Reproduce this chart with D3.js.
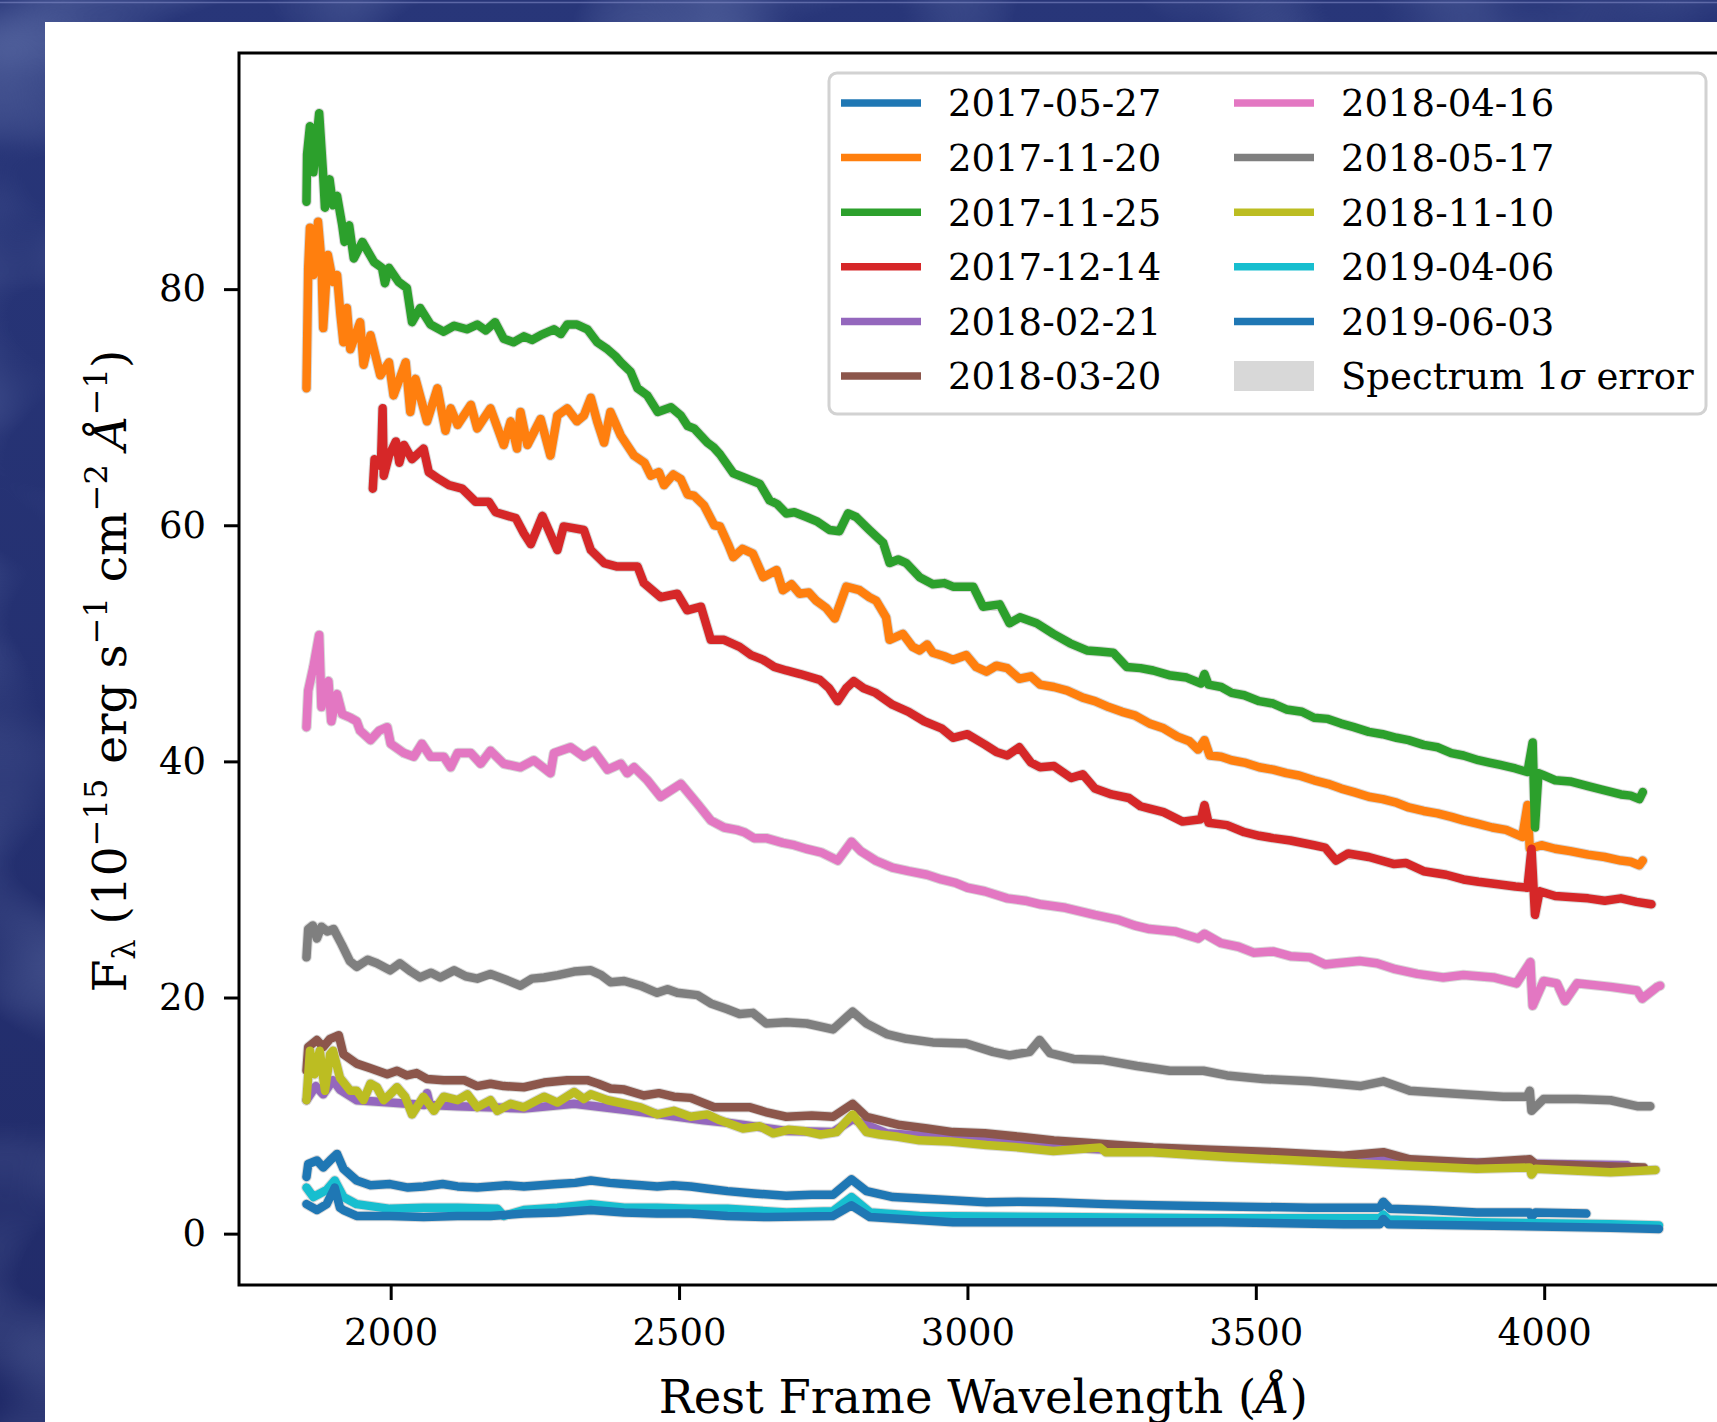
<!DOCTYPE html>
<html>
<head>
<meta charset="utf-8">
<script src="https://cdn.jsdelivr.net/npm/d3@7"></script>
<style>
  html, body { margin: 0; padding: 0; background: #232d6c; overflow: hidden; }
  svg { display: block; }
  text { font-family: "DejaVu Serif", serif; fill: #000; }
</style>
</head>
<body>
<div id="chart"></div>
<script>
// Spectra: [rest wavelength (A), flux (1e-15 erg/s/cm2/A)]
const spec20170527 = [[1854,4.8],[1857,5.9],[1872,6.2],[1883,5.6],[1895,6.2],[1907,6.75],[1918,5.5],[1941,4.5],[1965,4.1],[1999,4.2],[2030,3.9],[2057,4.0],[2090,4.2],[2116,4.0],[2150,3.9],[2173,4.0],[2200,4.1],[2231,4.0],[2260,4.1],[2289,4.2],[2320,4.3],[2347,4.5],[2380,4.3],[2405,4.2],[2435,4.1],[2462,4.0],[2490,4.1],[2520,4.0],[2550,3.8],[2584,3.6],[2630,3.4],[2686,3.2],[2730,3.3],[2767,3.3],[2799,4.6],[2825,3.6],[2871,3.1],[2950,2.9],[3033,2.65],[3090,2.7],[3149,2.65],[3240,2.5],[3322,2.4],[3450,2.3],[3594,2.2],[3715,2.2],[3721,2.7],[3733,2.1],[3800,2.0],[3883,1.8],[3975,1.8],[3978,1.4],[3985,1.8],[4073,1.7]];
const spec20171120 = [[1854,71.6],[1857,81.8],[1860,85.2],[1866,81.2],[1874,85.7],[1880,82.3],[1883,76.7],[1891,82.9],[1900,80.6],[1907,81.2],[1913,77.8],[1918,75.5],[1924,78.4],[1930,74.9],[1947,77.2],[1953,73.6],[1965,76.1],[1982,72.7],[1997,73.8],[2005,71.0],[2026,73.8],[2034,69.6],[2043,72.4],[2063,68.8],[2081,71.6],[2095,68.0],[2104,69.9],[2116,68.5],[2139,70.2],[2150,68.2],[2173,69.9],[2196,66.8],[2208,68.8],[2219,66.5],[2225,69.6],[2237,66.8],[2260,69.0],[2277,65.9],[2289,69.3],[2306,69.9],[2323,68.8],[2335,69.3],[2347,70.8],[2358,68.8],[2370,67.0],[2381,69.6],[2399,67.6],[2422,65.9],[2440,65.3],[2451,64.2],[2465,64.5],[2474,63.4],[2490,64.3],[2503,63.9],[2515,62.6],[2526,62.5],[2543,61.7],[2561,60.0],[2571,59.9],[2585,58.4],[2594,57.3],[2610,58.0],[2628,57.6],[2646,55.6],[2669,56.2],[2680,54.5],[2695,55.0],[2709,54.2],[2725,54.3],[2738,53.6],[2755,53.0],[2770,52.1],[2790,54.8],[2813,54.5],[2830,53.9],[2842,53.6],[2859,52.2],[2865,50.3],[2888,50.8],[2905,49.7],[2917,49.4],[2930,49.9],[2940,49.2],[2960,48.9],[2975,48.6],[2998,49.0],[3015,48.0],[3033,47.6],[3050,48.1],[3069,47.9],[3090,47.0],[3110,47.2],[3126,46.5],[3150,46.3],[3173,46.0],[3200,45.4],[3221,45.1],[3245,44.6],[3268,44.2],[3290,43.9],[3316,43.2],[3340,42.8],[3364,42.1],[3385,41.7],[3400,41.0],[3411,41.8],[3420,40.5],[3440,40.4],[3458,40.1],[3480,39.9],[3506,39.5],[3530,39.3],[3553,39.0],[3575,38.8],[3601,38.4],[3625,38.1],[3648,37.7],[3670,37.4],[3696,37.0],[3720,36.8],[3744,36.5],[3765,36.1],[3791,35.8],[3815,35.6],[3839,35.3],[3860,35.0],[3886,34.7],[3910,34.4],[3934,34.2],[3962,33.6],[3971,36.3],[3975,32.6],[3995,32.9],[4019,32.6],[4045,32.4],[4076,32.1],[4105,31.9],[4133,31.6],[4150,31.5],[4165,31.2],[4171,31.6]];
const spec20171125 = [[1854,87.4],[1855,91.4],[1860,93.8],[1866,89.9],[1876,94.9],[1883,89.6],[1886,86.9],[1894,89.3],[1900,87.1],[1907,87.9],[1916,85.4],[1920,84.0],[1928,85.4],[1936,82.6],[1951,84.0],[1971,82.3],[1985,81.8],[1990,80.5],[1997,81.8],[2014,80.6],[2028,80.1],[2037,77.2],[2051,78.4],[2069,77.0],[2092,76.4],[2110,76.9],[2132,76.6],[2150,77.0],[2165,76.5],[2181,77.2],[2196,75.8],[2213,75.5],[2231,76.0],[2245,75.7],[2260,76.1],[2283,76.6],[2295,76.2],[2306,77.0],[2323,77.0],[2341,76.6],[2358,75.5],[2376,74.9],[2390,74.3],[2399,73.8],[2416,73.0],[2428,71.6],[2445,71.0],[2463,69.6],[2486,70.0],[2503,69.3],[2515,68.4],[2526,68.2],[2549,67.0],[2560,66.6],[2571,66.0],[2594,64.4],[2615,64.0],[2640,63.5],[2657,62.1],[2670,61.8],[2686,61.0],[2700,61.1],[2721,60.7],[2740,60.3],[2761,59.6],[2778,59.5],[2793,61.0],[2807,60.7],[2830,59.6],[2854,58.5],[2865,56.8],[2880,57.1],[2894,56.8],[2917,55.6],[2940,55.0],[2960,55.1],[2975,54.8],[3010,54.8],[3027,53.1],[3056,53.3],[3073,51.7],[3091,52.2],[3120,51.7],[3149,50.8],[3178,50.0],[3207,49.4],[3230,49.3],[3253,49.2],[3276,48.0],[3300,47.9],[3322,47.7],[3350,47.3],[3380,47.1],[3405,46.6],[3411,47.4],[3418,46.5],[3440,46.3],[3458,45.8],[3480,45.6],[3506,45.1],[3530,44.9],[3553,44.4],[3580,44.2],[3601,43.7],[3625,43.6],[3648,43.2],[3670,42.9],[3696,42.5],[3720,42.3],[3744,42.0],[3765,41.8],[3791,41.4],[3815,41.2],[3839,40.7],[3860,40.5],[3886,40.1],[3905,39.9],[3924,39.7],[3950,39.4],[3971,39.1],[3980,41.6],[3984,34.4],[3990,39.0],[4000,38.8],[4019,38.4],[4045,38.3],[4076,37.9],[4100,37.6],[4133,37.2],[4150,37.1],[4165,36.8],[4171,37.4]];
const spec20171214 = [[1969,63.1],[1972,65.6],[1983,65.0],[1986,69.9],[1988,64.2],[1997,65.9],[2009,67.1],[2015,65.3],[2023,66.8],[2037,65.6],[2057,66.5],[2066,64.5],[2084,63.9],[2101,63.4],[2124,63.1],[2147,62.0],[2170,62.0],[2182,61.1],[2217,60.6],[2231,59.3],[2243,58.4],[2263,60.8],[2289,57.9],[2300,59.9],[2335,59.6],[2347,57.9],[2370,56.8],[2393,56.5],[2428,56.5],[2439,55.1],[2468,53.9],[2497,54.2],[2514,52.8],[2538,53.1],[2555,50.3],[2578,50.3],[2605,49.7],[2625,49.0],[2646,48.6],[2665,48.0],[2686,47.7],[2710,47.4],[2744,46.9],[2760,46.2],[2775,45.1],[2790,46.2],[2803,46.8],[2820,46.2],[2841,45.8],[2870,44.8],[2898,44.2],[2925,43.4],[2955,42.8],[2975,42.0],[3000,42.3],[3031,41.4],[3050,40.8],[3069,40.5],[3090,41.2],[3110,39.9],[3126,39.5],[3150,39.6],[3180,38.6],[3200,38.9],[3221,37.7],[3250,37.2],[3280,36.9],[3300,36.2],[3316,36.0],[3340,35.7],[3373,34.9],[3405,35.1],[3411,36.3],[3418,34.8],[3450,34.6],[3480,34.0],[3506,33.7],[3530,33.5],[3560,33.3],[3601,32.9],[3620,32.7],[3639,31.6],[3660,32.2],[3696,31.9],[3740,31.3],[3760,31.4],[3791,30.7],[3830,30.4],[3860,30.0],[3886,29.8],[3920,29.6],[3950,29.4],[3971,29.3],[3978,32.6],[3984,27.0],[3992,29.0],[4019,28.6],[4050,28.5],[4076,28.4],[4105,28.2],[4133,28.4],[4160,28.1],[4186,27.9]];
const spec20180221 = [[1854,11.3],[1870,12.5],[1883,11.8],[1900,13.0],[1912,12.2],[1941,11.3],[1999,11.1],[2058,10.9],[2063,11.9],[2068,10.9],[2116,10.8],[2231,10.6],[2318,11.0],[2405,10.5],[2543,9.6],[2584,9.4],[2686,8.7],[2767,8.6],[2801,9.7],[2860,8.5],[3033,7.9],[3207,7.2],[3420,6.7],[3652,6.3],[3883,6.0],[4144,5.8]];
const spec20180320 = [[1854,13.8],[1857,15.8],[1872,16.4],[1883,15.8],[1895,16.5],[1910,16.8],[1918,15.2],[1941,14.4],[1965,14.0],[1994,13.5],[2011,13.8],[2028,13.4],[2045,13.6],[2063,13.1],[2092,13.0],[2127,13.0],[2150,12.5],[2173,12.7],[2196,12.5],[2231,12.4],[2266,12.8],[2306,13.0],[2341,13.0],[2360,12.7],[2381,12.3],[2405,12.2],[2439,11.7],[2465,11.9],[2491,11.6],[2520,11.5],[2561,10.7],[2584,10.7],[2623,10.7],[2650,10.3],[2686,9.9],[2730,10.0],[2767,9.9],[2801,11.0],[2825,9.9],[2850,9.6],[2883,9.2],[2930,8.9],[2975,8.6],[3030,8.5],[3091,8.2],[3150,7.9],[3207,7.7],[3260,7.5],[3322,7.3],[3420,7.1],[3536,6.9],[3652,6.6],[3721,6.9],[3767,6.3],[3883,6.0],[3975,6.3],[3985,5.9],[4057,5.8],[4173,5.6]];
const spec20180416 = [[1854,42.9],[1857,46.0],[1866,48.0],[1876,50.7],[1880,44.6],[1886,46.3],[1892,46.8],[1897,43.4],[1907,45.7],[1916,44.0],[1930,43.7],[1941,43.4],[1947,42.6],[1965,41.8],[1980,42.6],[1994,42.9],[2000,41.5],[2023,40.7],[2040,40.4],[2054,41.5],[2069,40.4],[2092,40.4],[2104,39.5],[2116,40.7],[2139,40.7],[2156,39.8],[2173,40.9],[2196,39.8],[2225,39.5],[2248,40.1],[2277,39.0],[2283,40.7],[2312,41.2],[2335,40.4],[2352,40.9],[2376,39.3],[2399,39.8],[2410,39.0],[2422,39.5],[2445,38.4],[2468,37.0],[2503,38.1],[2532,36.4],[2555,35.0],[2578,34.4],[2600,34.2],[2613,34.0],[2630,33.5],[2651,33.5],[2680,33.1],[2700,32.9],[2720,32.6],[2746,32.3],[2775,31.6],[2799,33.2],[2815,32.4],[2841,31.6],[2870,31.0],[2898,30.7],[2930,30.4],[2955,30.0],[2980,29.7],[3000,29.3],[3030,29.0],[3069,28.4],[3100,28.2],[3126,27.9],[3170,27.6],[3221,27.0],[3260,26.6],[3290,26.1],[3316,25.8],[3360,25.6],[3400,25.0],[3411,25.4],[3440,24.6],[3470,24.3],[3496,23.8],[3530,23.9],[3560,23.5],[3594,23.4],[3620,22.8],[3640,22.9],[3680,23.1],[3710,22.9],[3742,22.4],[3780,22.0],[3825,21.7],[3860,21.9],[3912,21.7],[3952,21.2],[3976,23.0],[3980,19.3],[3999,21.4],[4022,21.2],[4036,19.7],[4057,21.2],[4115,20.9],[4161,20.6],[4170,19.9],[4196,20.9],[4201,21.0]];
const spec20180517 = [[1854,23.4],[1857,25.8],[1865,26.1],[1872,25.0],[1880,26.0],[1890,25.6],[1901,25.8],[1915,24.5],[1929,23.1],[1941,22.6],[1960,23.2],[1976,22.9],[1999,22.3],[2016,22.9],[2035,22.2],[2051,21.7],[2070,22.1],[2086,21.7],[2110,22.3],[2130,21.8],[2150,21.6],[2173,22.0],[2200,21.5],[2225,21.0],[2245,21.6],[2266,21.7],[2290,21.9],[2318,22.2],[2347,22.3],[2365,21.9],[2381,21.3],[2405,21.4],[2433,21.0],[2462,20.4],[2480,20.7],[2497,20.4],[2532,20.2],[2555,19.5],[2584,19.0],[2605,18.6],[2628,18.7],[2651,17.8],[2686,17.9],[2721,17.8],[2767,17.3],[2801,18.8],[2825,17.8],[2860,16.9],[2894,16.5],[2940,16.2],[2998,16.1],[3044,15.4],[3073,15.1],[3108,15.4],[3125,16.4],[3143,15.3],[3184,14.8],[3236,14.7],[3294,14.2],[3351,13.8],[3409,13.8],[3450,13.4],[3513,13.1],[3594,12.9],[3681,12.5],[3721,12.9],[3767,12.1],[3860,11.8],[3929,11.6],[3970,11.6],[3975,12.1],[3978,10.4],[3999,11.4],[4057,11.4],[4115,11.3],[4161,10.8],[4184,10.8]];
const spec20181110 = [[1854,11.3],[1860,15.5],[1868,13.5],[1877,15.5],[1886,12.1],[1895,15.2],[1900,15.5],[1912,13.2],[1930,12.1],[1941,12.1],[1953,11.3],[1965,12.7],[1976,12.4],[1988,11.3],[1999,11.8],[2011,12.4],[2025,11.6],[2037,10.1],[2057,11.6],[2075,10.4],[2092,11.6],[2116,11.3],[2133,11.8],[2150,10.7],[2173,11.3],[2185,10.4],[2208,11.0],[2231,10.7],[2266,11.6],[2289,11.1],[2318,12.0],[2335,11.4],[2347,11.8],[2376,11.3],[2405,11.0],[2433,10.7],[2462,10.1],[2491,10.4],[2520,9.9],[2549,10.1],[2571,9.6],[2611,8.9],[2640,9.1],[2663,8.5],[2690,8.8],[2715,8.7],[2745,8.4],[2773,8.6],[2801,10.1],[2825,8.6],[2848,8.4],[2880,8.2],[2917,7.9],[2970,7.8],[3033,7.5],[3090,7.3],[3149,7.0],[3230,7.3],[3240,6.9],[3322,6.9],[3450,6.5],[3652,6.0],[3883,5.5],[3975,5.6],[3978,5.0],[3985,5.5],[4115,5.2],[4193,5.4]];
const spec20190406 = [[1854,3.9],[1866,3.1],[1889,3.7],[1903,4.5],[1918,3.1],[1941,2.5],[1999,2.1],[2057,2.2],[2116,2.2],[2185,2.1],[2196,1.5],[2231,2.0],[2289,2.2],[2347,2.5],[2405,2.2],[2462,2.2],[2520,2.1],[2584,2.1],[2686,1.8],[2767,1.9],[2799,3.1],[2831,1.8],[2917,1.5],[3149,1.4],[3420,1.3],[3715,1.3],[3721,1.6],[3730,1.2],[3883,0.96],[4115,0.8],[4199,0.7]];
const spec20190603 = [[1854,2.5],[1872,2.0],[1889,2.5],[1903,3.9],[1912,2.2],[1918,2.0],[1941,1.5],[1999,1.5],[2057,1.4],[2116,1.5],[2173,1.5],[2231,1.7],[2289,1.8],[2347,2.0],[2405,1.8],[2462,1.7],[2520,1.7],[2584,1.5],[2657,1.4],[2767,1.5],[2799,2.4],[2831,1.4],[2975,0.96],[3207,0.96],[3439,0.96],[3652,0.8],[3715,0.8],[3721,1.25],[3730,0.8],[3883,0.7],[4115,0.5],[4199,0.4]];

const seriesNames = ["2017-05-27", "2017-11-20", "2017-11-25", "2017-12-14", "2018-02-21", "2018-03-20",
                     "2018-04-16", "2018-05-17", "2018-11-10", "2019-04-06", "2019-06-03"];
const seriesValues = [spec20170527, spec20171120, spec20171125, spec20171214, spec20180221, spec20180320,
                      spec20180416, spec20180517, spec20181110, spec20190406, spec20190603];
const seriesColors = ["#1f77b4", "#ff7f0e", "#2ca02c", "#d62728", "#9467bd", "#8c564b",
                      "#e377c2", "#7f7f7f", "#bcbd22", "#17becf", "#1f77b4"];

const xTicks = [2000, 2500, 3000, 3500, 4000];
const yTicks = [0, 20, 40, 60, 80];
const xLimits = [1737, 4318];
const yLimits = [-4.35, 100];

function drawSpectra(selector) {

    // Page and plot box (the right spine falls just outside the picture)
    const dimensions = {
        width: 1717,
        height: 1422,
        panel: { x: 45, y: 22 },
        box: { left: 239, top: 53, right: 1727.6, bottom: 1285 },
        fontSize: 37,
        xLabelSize: 46.5,
        yLabelSize: 47,
    };

    const svg = d3.select(selector)
        .append("svg")
        .attr("width", dimensions.width)
        .attr("height", dimensions.height);

    const defs = svg.append("defs");

    // Soft mottled blue backdrop
    const mottle = defs.append("filter").attr("id", "mottle")
        .attr("x", 0).attr("y", 0).attr("width", 1).attr("height", 1);
    mottle.append("feTurbulence")
        .attr("type", "fractalNoise")
        .attr("baseFrequency", "0.005 0.007")
        .attr("numOctaves", 2)
        .attr("seed", 4);
    mottle.append("feColorMatrix")
        .attr("type", "matrix")
        .attr("values", "0 0 0 0 0.26  0 0 0 0 0.34  0 0 0 0 0.62  1.0 0 0 0 -0.42");

    const shade = defs.append("linearGradient").attr("id", "shade")
        .attr("x1", 0).attr("y1", 0).attr("x2", 0).attr("y2", 1);
    shade.append("stop").attr("offset", "0%").attr("stop-color", "#283679");
    shade.append("stop").attr("offset", "100%").attr("stop-color", "#212b69");

    svg.append("rect")
        .attr("width", dimensions.width).attr("height", dimensions.height)
        .attr("fill", "url(#shade)");
    svg.append("rect")
        .attr("width", dimensions.width).attr("height", dimensions.height)
        .attr("filter", "url(#mottle)");
    svg.append("line")
        .attr("x1", 0).attr("x2", dimensions.width)
        .attr("y1", 2.5).attr("y2", 2.5)
        .attr("stroke", "#7f88c4").attr("stroke-width", 1.5).attr("opacity", 0.6);

    // White figure panel
    svg.append("rect")
        .attr("x", dimensions.panel.x).attr("y", dimensions.panel.y)
        .attr("width", dimensions.width - dimensions.panel.x)
        .attr("height", dimensions.height - dimensions.panel.y)
        .attr("fill", "#ffffff");

    const box = dimensions.box;

    // Scales
    const xScale = d3.scaleLinear().domain(xLimits).range([box.left, box.right]);
    const yScale = d3.scaleLinear().domain(yLimits).range([box.bottom, box.top]);

    const lineGenerator = d3.line()
        .x(d => xScale(d[0]))
        .y(d => yScale(d[1]));

    defs.append("clipPath").attr("id", "plot-clip")
        .append("rect")
        .attr("x", box.left).attr("y", box.top)
        .attr("width", box.right - box.left).attr("height", box.bottom - box.top);

    const plot = svg.append("g").attr("clip-path", "url(#plot-clip)");

    // 1-sigma error envelope, a faint grey halo under each spectrum
    plot.selectAll("path.err")
        .data(seriesValues)
        .enter().append("path")
        .attr("class", "err")
        .attr("d", lineGenerator)
        .attr("fill", "none")
        .attr("stroke", "#d9d9d9")
        .attr("stroke-width", 10.5)
        .attr("stroke-linejoin", "round")
        .attr("stroke-linecap", "round");

    // Spectra
    plot.selectAll("path.spec")
        .data(seriesValues)
        .enter().append("path")
        .attr("class", "spec")
        .attr("d", lineGenerator)
        .attr("fill", "none")
        .attr("stroke", (d, i) => seriesColors[i])
        .attr("stroke-width", 8.5)
        .attr("stroke-linejoin", "round")
        .attr("stroke-linecap", "round");

    // Axes
    const xAxis = svg.append("g")
        .attr("transform", `translate(0, ${box.bottom})`)
        .call(d3.axisBottom(xScale).tickValues(xTicks).tickFormat(d3.format("d"))
            .tickSize(15).tickPadding(19).tickSizeOuter(0));
    const yAxis = svg.append("g")
        .attr("transform", `translate(${box.left}, 0)`)
        .call(d3.axisLeft(yScale).tickValues(yTicks).tickFormat(d3.format("d"))
            .tickSize(15).tickPadding(18).tickSizeOuter(0));

    [xAxis, yAxis].forEach(axis => {
        axis.select(".domain").remove();
        axis.selectAll(".tick line").attr("stroke", "#000").attr("stroke-width", 3);
        axis.selectAll(".tick text")
            .attr("fill", "#000")
            .style("font-family", "'DejaVu Serif', serif")
            .style("font-size", dimensions.fontSize + "px");
    });

    // Frame
    svg.append("rect")
        .attr("x", box.left).attr("y", box.top)
        .attr("width", box.right - box.left).attr("height", box.bottom - box.top)
        .attr("fill", "none")
        .attr("stroke", "#000")
        .attr("stroke-width", 3);

    // Axis labels (the x label runs off the bottom edge, as in the source)
    const xLabel = svg.append("text")
        .attr("x", (box.left + box.right) / 2)
        .attr("y", 1413)
        .attr("text-anchor", "middle")
        .style("font-size", dimensions.xLabelSize + "px");
    xLabel.append("tspan").text("Rest Frame Wavelength (");
    xLabel.append("tspan").attr("font-style", "italic").text("Å");
    xLabel.append("tspan").text(")");

    const sup = 32, rise = 19, drop = 9;
    const yLabel = svg.append("text")
        .attr("transform", `translate(126, ${(box.top + box.bottom) / 2 + 2}) rotate(-90)`)
        .attr("text-anchor", "middle")
        .style("font-size", dimensions.yLabelSize + "px");
    yLabel.append("tspan").text("F");
    yLabel.append("tspan").attr("dy", drop).style("font-size", sup + "px").text("λ");
    yLabel.append("tspan").attr("dy", -drop).text(" (10");
    yLabel.append("tspan").attr("dy", -rise).style("font-size", sup + "px").text("−15");
    yLabel.append("tspan").attr("dy", rise).text(" erg s");
    yLabel.append("tspan").attr("dy", -rise).style("font-size", sup + "px").text("−1");
    yLabel.append("tspan").attr("dy", rise).text(" cm");
    yLabel.append("tspan").attr("dy", -rise).style("font-size", sup + "px").text("−2");
    yLabel.append("tspan").attr("dy", rise).text(" ");
    yLabel.append("tspan").attr("font-style", "italic").text("Å");
    yLabel.append("tspan").attr("dy", -rise).style("font-size", sup + "px").text("−1");
    yLabel.append("tspan").attr("dy", rise).text(")");

    // Legend
    const legend = svg.append("g").attr("class", "legend");
    legend.append("rect")
        .attr("x", 829).attr("y", 73)
        .attr("width", 877).attr("height", 341)
        .attr("rx", 8).attr("ry", 8)
        .attr("fill", "#ffffff").attr("fill-opacity", 0.85)
        .attr("stroke", "#d2d2d2").attr("stroke-width", 3);

    const legendCols = [{ lineX: 841, textX: 948 }, { lineX: 1234, textX: 1341 }];
    const legendRowY = d3.scaleLinear().domain([0, 5]).range([103, 376]);
    const legendItems = seriesNames.map((name, i) => ({ name, color: seriesColors[i], kind: "line" }))
        .concat([{ name: "Spectrum 1σ error", color: "#d8d8d8", kind: "patch" }]);

    legendItems.forEach((item, i) => {
        const col = legendCols[Math.floor(i / 6)];
        const cy = legendRowY(i % 6);
        if (item.kind === "line") {
            legend.append("line")
                .attr("x1", col.lineX).attr("x2", col.lineX + 80)
                .attr("y1", cy).attr("y2", cy)
                .attr("stroke", item.color)
                .attr("stroke-width", 7.5);
        } else {
            legend.append("rect")
                .attr("x", col.lineX).attr("y", cy - 15)
                .attr("width", 80).attr("height", 30)
                .attr("fill", item.color);
        }
        const label = legend.append("text")
            .attr("x", col.textX).attr("y", cy)
            .attr("dy", "0.36em")
            .style("font-size", dimensions.fontSize + "px");
        if (item.kind === "line") {
            label.text(item.name);
        } else {
            label.append("tspan").text("Spectrum 1");
            label.append("tspan").attr("font-style", "italic").text("σ");
            label.append("tspan").text(" error");
        }
    });
}

drawSpectra("#chart");
</script>
</body>
</html>
